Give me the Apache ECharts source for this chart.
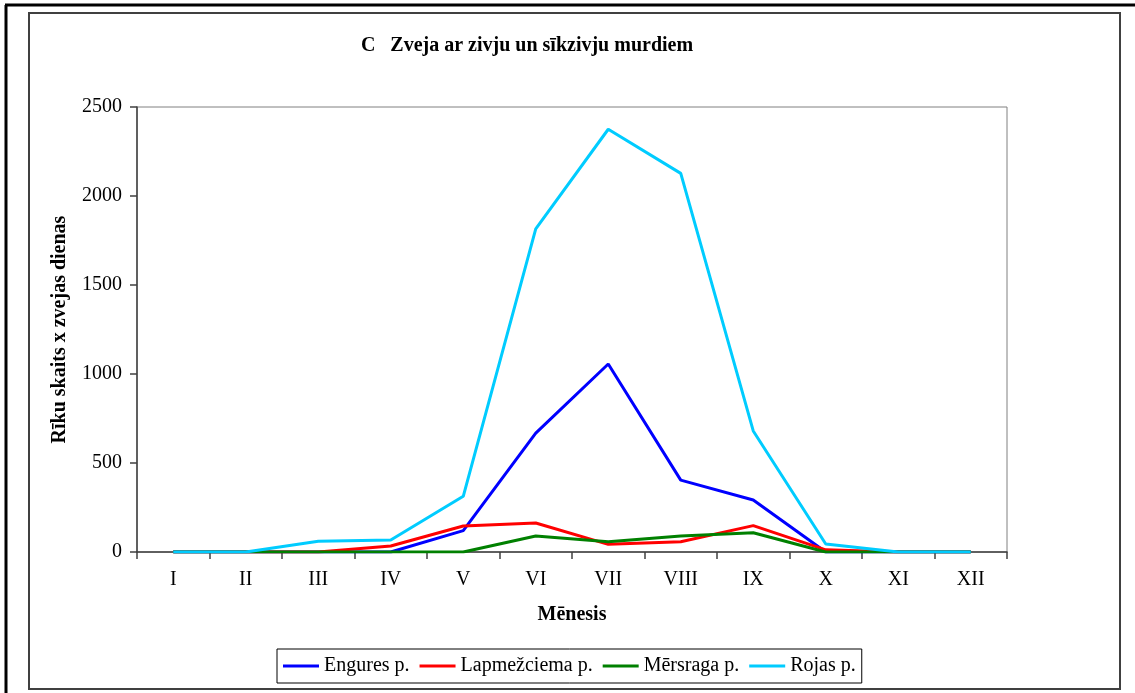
<!DOCTYPE html>
<html><head><meta charset="utf-8">
<script src="https://cdn.jsdelivr.net/npm/echarts@6/dist/echarts.min.js"></script>
<style>html,body{margin:0;padding:0;background:#fff}#c{width:1135px;height:693px}</style>
</head><body><div id="c"></div>
<script>
const months = ['I','II','III','IV','V','VI','VII','VIII','IX','X','XI','XII'];
const engures = [0,0,0,0,120,668,1056,404,292,0,0,0];
const lapmezciema = [0,0,0,34,146,163,43,58,148,12,0,0];
const mersraga = [0,0,0,0,0,90,58,90,108,0,0,0];
const rojas = [0,0,60,67,313,1815,2375,2127,680,45,0,0];
const yTicks = [0,500,1000,1500,2000,2500];
const seriesNames = ['Engures p.','Lapmežciema p.','Mērsraga p.','Rojas p.'];
const seriesColors = ['#0000ff','#ff0000','#008000','#00ccff'];
const seriesData = [engures, lapmezciema, mersraga, rojas];

const font = 'Liberation Serif, Times New Roman, serif';
const chart = echarts.init(document.getElementById('c'), null, {renderer:'canvas'});
chart.setOption({
  animation:false,
  backgroundColor:'#fff',
  textStyle:{fontFamily:font},
  title:{text:'C   Zveja ar zivju un sīkzivju murdiem', left:522, top:31, textAlign:'center',
    textStyle:{fontFamily:font, fontSize:20, fontWeight:'bold', color:'#000'}},
  grid:{left:137, top:107, width:870, height:445, show:true, borderColor:'#808080', borderWidth:1, backgroundColor:'transparent'},
  legend:{left:277, top:649, width:800, padding:[7,6,7,6], itemGap:10, itemWidth:36, itemHeight:3,
    borderColor:'#000', borderWidth:1,
    icon:'rect',
    textStyle:{fontFamily:font, fontSize:20, color:'#000'},
    data:seriesNames},
  xAxis:{type:'category', data:months, boundaryGap:true,
    name:'Mēnesis', nameLocation:'middle', nameGap:53,
    nameTextStyle:{fontFamily:font, fontSize:20, fontWeight:'bold', color:'#000'},
    axisLine:{lineStyle:{color:'#404040', width:1.5}},
    axisTick:{show:true, interval:0, length:7, inside:false, lineStyle:{color:'#404040', width:1.5}},
    axisLabel:{fontFamily:font, fontSize:20, color:'#000', margin:18, interval:0},
    splitLine:{show:false}},
  yAxis:{type:'value', min:0, max:2500, interval:500,
    name:'Rīku skaits x zvejas dienas', nameLocation:'middle', nameGap:67, nameRotate:90,
    nameTextStyle:{fontFamily:font, fontSize:20, fontWeight:'bold', color:'#000'},
    axisLine:{show:true, lineStyle:{color:'#404040', width:1.5}},
    axisTick:{show:true, length:7, lineStyle:{color:'#404040', width:1.5}},
    axisLabel:{fontFamily:font, fontSize:20, color:'#000', margin:15,
      formatter:v => yTicks.includes(v) ? String(v) : ''},
    splitLine:{show:false}},
  series: seriesNames.map((n,i)=>({
    name:n, type:'line', data:seriesData[i], showSymbol:false, symbol:'none',
    lineStyle:{color:seriesColors[i], width:3}, itemStyle:{color:seriesColors[i]}
  })),
  graphic:[
    {type:'rect', shape:{x:29, y:13, width:1091, height:676}, style:{fill:'none', stroke:'#404040', lineWidth:2}, z:-1},
    {type:'line', shape:{x1:5, y1:5, x2:1135, y2:5}, style:{stroke:'#000', lineWidth:3}},
    {type:'line', shape:{x1:6, y1:5, x2:6, y2:693}, style:{stroke:'#000', lineWidth:3}}
  ]
});
</script></body></html>
